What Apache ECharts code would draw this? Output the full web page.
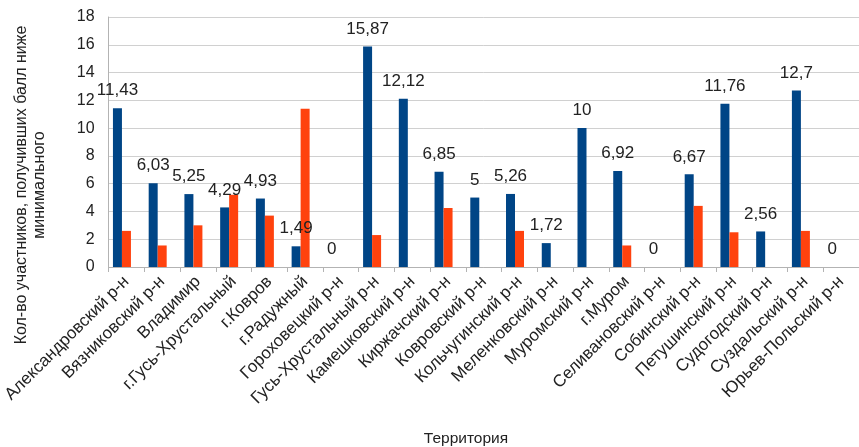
<!DOCTYPE html>
<html>
<head>
<meta charset="utf-8">
<script src="https://cdn.jsdelivr.net/npm/echarts@6/dist/echarts.min.js"></script>
<style>
    html, body { margin: 0; padding: 0; background: #fff; }
    #chart { width: 859px; height: 447px; }
</style>
</head>
<body>
<div id="chart"></div>
<script>
// territories
const categories = [
    'Александровский р-н', 'Вязниковский р-н', 'Владимир', 'г.Гусь-Хрустальный', 'г.Ковров',
    'г.Радужный', 'Гороховецкий р-н', 'Гусь-Хрустальный р-н', 'Камешковский р-н', 'Киржачский р-н',
    'Ковровский р-н', 'Кольчугинский р-н', 'Меленковский р-н', 'Муромский р-н', 'г.Муром',
    'Селивановский р-н', 'Собинский р-н', 'Петушинский р-н', 'Судогодский р-н', 'Суздальский р-н',
    'Юрьев-Польский р-н'
]
// series 1 (labelled)
const blueValues = [11.43, 6.03, 5.25, 4.29, 4.93, 1.49, 0, 15.87, 12.12, 6.85, 5, 5.26, 1.72, 10, 6.92, 0, 6.67, 11.76, 2.56, 12.7, 0]
// series 2 (no labels)
const redValues = [2.6, 1.55, 3.0, 5.2, 3.7, 11.4, null, 2.3, null, 4.25, null, 2.6, null, null, 1.55, null, 4.4, 2.5, null, 2.6, null]
// series 3 is empty in the source but still takes a slot in each group
const thirdValues = []
const yTicks = { min: 0, max: 18, interval: 2 }

const chart = echarts.init(document.getElementById('chart'))
const font = 'Liberation Sans, Arial, sans-serif'

const option = {
    animation: false,
    grid: {
        left: 108,
        right: -5,
        top: 17,
        bottom: 180,
        containLabel: false
    },
    xAxis: {
        type: 'category',
        data: categories,
        axisLine: { show: true, lineStyle: { color: '#b3b3b3', width: 1 } },
        axisTick: { show: true, alignWithLabel: false, length: 5, lineStyle: { color: '#b3b3b3' } },
        axisLabel: {
            interval: 0,
            rotate: 45,
            margin: 12,
            fontSize: 17,
            fontFamily: font,
            color: '#222'
        },
        splitLine: { show: false }
    },
    yAxis: {
        type: 'value',
        min: yTicks.min,
        max: yTicks.max,
        interval: yTicks.interval,
        axisLine: { show: true, lineStyle: { color: '#b3b3b3' } },
        axisTick: { show: false },
        axisLabel: {
            fontSize: 16,
            fontFamily: font,
            color: '#222',
            margin: 14
        },
        splitLine: { show: true, lineStyle: { color: '#d0d0d0', width: 1 } }
    },
    series: [
        {
            type: 'bar',
            data: blueValues,
            barWidth: 9,
            barGap: '0%',
            barCategoryGap: '25%',
            itemStyle: { color: '#004586' },
            label: {
                show: true,
                position: 'top',
                distance: 9,
                fontSize: 17,
                fontFamily: font,
                color: '#222',
                formatter: p => String(p.value).replace('.', ',')
            }
        },
        {
            type: 'bar',
            data: redValues,
            barWidth: 9,
            barGap: '0%',
            itemStyle: { color: '#ff420e' }
        },
        {
            type: 'bar',
            data: thirdValues,
            barWidth: 9,
            barGap: '0%',
            itemStyle: { color: '#ffd320' }
        }
    ],
    graphic: [
        {
            type: 'text',
            x: 31,
            y: 185,
            rotation: Math.PI / 2,
            style: {
                text: 'Кол-во участников, получивших балл ниже\nминимального',
                font: '16px ' + font,
                fill: '#222',
                align: 'center',
                verticalAlign: 'middle',
                lineHeight: 18
            }
        },
        {
            type: 'text',
            x: 466,
            y: 439,
            style: {
                text: 'Территория',
                font: '15.5px ' + font,
                fill: '#222',
                align: 'center',
                verticalAlign: 'middle'
            }
        }
    ]
}
chart.setOption(option)
</script>
</body>
</html>
